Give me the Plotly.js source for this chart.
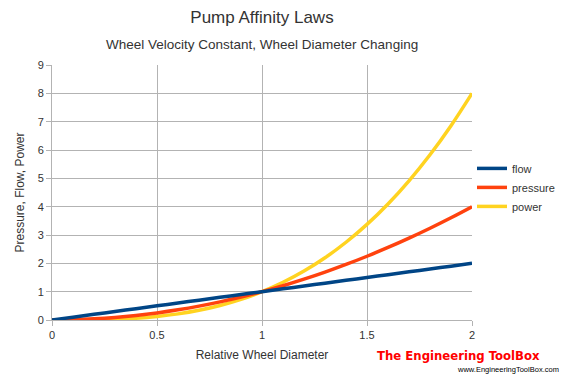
<!DOCTYPE html>
<html><head><meta charset="utf-8">
<script src="https://cdn.plot.ly/plotly-3.0.1.min.js"></script>
<style>html,body{margin:0;padding:0;background:#fff}#c{width:568px;height:379px}</style>
</head><body><div id="c"></div>
<script>
const diameter = [0,0.1,0.2,0.3,0.4,0.5,0.6,0.7,0.8,0.9,1,1.1,1.2,1.3,1.4,1.5,1.6,1.7,1.8,1.9,2];
const flow = [0,0.1,0.2,0.3,0.4,0.5,0.6,0.7,0.8,0.9,1,1.1,1.2,1.3,1.4,1.5,1.6,1.7,1.8,1.9,2];
const pressure = [0,0.01,0.04,0.09,0.16,0.25,0.36,0.49,0.64,0.81,1,1.21,1.44,1.69,1.96,2.25,2.56,2.89,3.24,3.61,4];
const power = [0,0.001,0.008,0.027,0.064,0.125,0.216,0.343,0.512,0.729,1,1.331,1.728,2.197,2.744,3.375,4.096,4.913,5.832,6.859,8];
const names = ['flow','pressure','power'];
const colors = ['#004586','#ff420e','#ffd320'];

const font = 'Liberation Sans, Arial, sans-serif';
const series = [flow, pressure, power];
const traces = [2,1,0].map(k=>({x: diameter, y: series[k], name: names[k], mode:'lines', type:'scatter',
    line:{color:colors[k], width:3.5, shape:'spline'}, showlegend:false}));
names.forEach((n,k)=>traces.push({x:[null],y:[null],name:n,mode:'lines',type:'scatter',line:{color:colors[k],width:3.5}}));

const layout = {
  width:568, height:379,
  margin:{l:52,r:96,t:65,b:59, autoexpand:false},
  paper_bgcolor:'#fff', plot_bgcolor:'#fff',
  font:{family:font, color:'#333', size:11},
  title:{text:'Pump Affinity Laws', font:{size:17, color:'#333'}, xref:'paper', x:0.5, xanchor:'center', yref:'container', y:0.955, yanchor:'middle'},
  annotations:[
    {text:'Wheel Velocity Constant, Wheel Diameter Changing', xref:'paper', yref:'paper', x:0.5, y:1, xanchor:'center', yanchor:'middle', yshift:21, showarrow:false, font:{size:13.5,color:'#333'}},
    {text:'<b>The Engineering ToolBox</b>', xref:'paper', yref:'paper', x:(375-52)/420, y:0, xanchor:'left', yanchor:'middle', yshift:-35, showarrow:false, font:{family:'DejaVu Sans Condensed, Liberation Sans, sans-serif', size:13, color:'#ff0000'}},
    {text:'www.EngineeringToolBox.com', xref:'paper', yref:'paper', x:(455-52)/420, y:0, xanchor:'left', yanchor:'middle', yshift:-49, showarrow:false, font:{size:7.5, color:'#000'}}
  ],
  xaxis:{range:[0,2], dtick:0.5, tick0:0, showgrid:true, gridcolor:'#b3b3b3', gridwidth:1,
    showline:true, linecolor:'#b3b3b3', linewidth:1, ticks:'outside', ticklen:5, tickcolor:'#b3b3b3',
    zeroline:false, tickfont:{size:11,color:'#333'},
    title:{text:'Relative Wheel Diameter', font:{size:12,color:'#333'}, standoff:10}},
  yaxis:{range:[0,9], dtick:1, tick0:0, showgrid:true, gridcolor:'#b3b3b3', gridwidth:1,
    showline:true, linecolor:'#b3b3b3', linewidth:1, ticks:'outside', ticklen:5, tickcolor:'#b3b3b3',
    zeroline:false, tickfont:{size:11,color:'#333'},
    title:{text:'Pressure, Flow, Power', font:{size:12,color:'#333'}, standoff:10}},
  legend:{x:1.0, y:0.52, xanchor:'left', yanchor:'middle', font:{size:11,color:'#333'}, tracegroupgap:0, bgcolor:'rgba(0,0,0,0)'},
  showlegend:true
};
Plotly.newPlot('c', traces, layout, {staticPlot:true, displayModeBar:false});
</script></body></html>
